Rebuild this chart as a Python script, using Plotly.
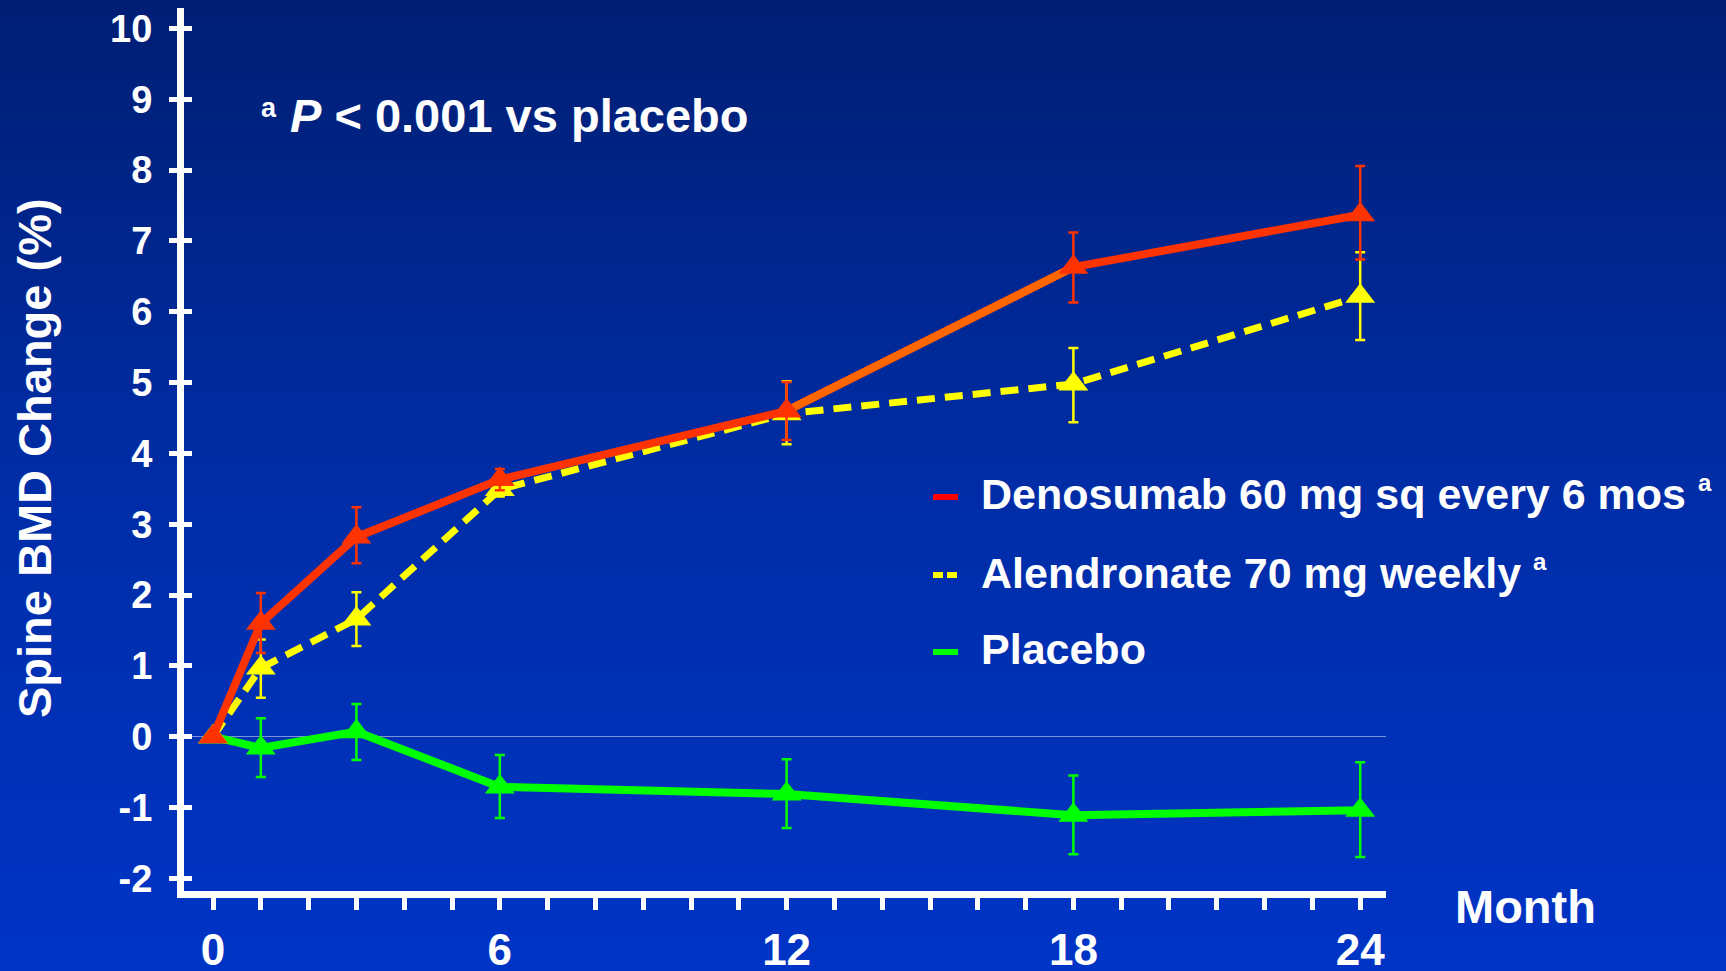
import plotly.graph_objects as go

# ---------------- data ----------------
months = [0, 1, 3, 6, 12, 18, 24]

deno = [0, 1.60, 2.82, 3.63, 4.60, 6.63, 7.37]
deno_plus = [0, 0.43, 0.42, 0.15, 0.41, 0.49, 0.69]
deno_minus = [0, 0.42, 0.37, 0.15, 0.41, 0.50, 0.63]

alen = [0, 0.97, 1.66, 3.49, 4.56, 4.98, 6.22]
alen_plus = [0, 0.40, 0.38, 0.10, 0.46, 0.51, 0.62]
alen_minus = [0, 0.42, 0.38, 0.10, 0.43, 0.54, 0.62]

plac = [0, -0.16, 0.07, -0.71, -0.81, -1.11, -1.04]
plac_plus = [0, 0.42, 0.39, 0.45, 0.49, 0.56, 0.68]
plac_minus = [0, 0.41, 0.40, 0.44, 0.48, 0.55, 0.66]

series_names = ["Denosumab 60 mg sq every 6 mos", "Alendronate 70 mg weekly", "Placebo"]
series_sup = ["a", "a", ""]

x_tick_vals = list(range(0, 25))
x_tick_text = [str(v) if v % 6 == 0 else "" for v in x_tick_vals]
y_tick_vals = list(range(-2, 11))
y_tick_text = [str(v) for v in y_tick_vals]

# ---------------- layout geometry ----------------
FW, FH = 1726, 971
L, R, T, B = 184, 340, 8, 80
W, H = FW - L - R, FH - T - B
XR = [-0.607, 24.54]
YR = [-2.18, 10.29]

def px_x(px):
    return (px - L) / W

def px_y(py):
    return 1 - (py - T) / H

FONT = "Liberation Sans, Arial, Helvetica, sans-serif"
RED, ORANGE, YEL, GRN = "#ff3300", "#ff6600", "#ffff00", "#00ff00"

fig = go.Figure()

def add_series(y, plus, minus, color, dash, width, seg=None):
    fig.add_trace(go.Scatter(
        x=months, y=y, mode="lines",
        line=dict(color=color, width=width, dash=dash),
        error_y=dict(type="data", symmetric=False, array=plus, arrayminus=minus,
                     color=color, thickness=2.5, width=5),
        showlegend=False, hoverinfo="skip"))
    if seg is not None:
        fig.add_trace(go.Scatter(
            x=months[seg[0]:seg[1]], y=y[seg[0]:seg[1]], mode="lines",
            line=dict(color=seg[2], width=width),
            showlegend=False, hoverinfo="skip"))
    fig.add_trace(go.Scatter(
        x=months, y=y, mode="markers",
        marker=dict(symbol="triangle-up", size=26, color=color, line=dict(width=0)),
        showlegend=False, hoverinfo="skip"))

add_series(plac, plac_plus, plac_minus, GRN, "solid", 8)
add_series(alen, alen_plus, alen_minus, YEL, "18px,10px", 7)
add_series(deno, deno_plus, deno_minus, RED, "solid", 8, seg=(4, 6, ORANGE))

# invisible trace to carry the inner-tick overlay axis
fig.add_trace(go.Scatter(x=[months[0]], y=[plac[0]], yaxis="y2", mode="markers",
                         marker=dict(opacity=0), showlegend=False, hoverinfo="skip"))

# ---------------- background gradient ----------------
stops = [(0.0, (0, 30, 115)), (0.5, (0, 45, 166)), (1.0, (0, 52, 198))]

def grad(t):
    for (t0, c0), (t1, c1) in zip(stops[:-1], stops[1:]):
        if t <= t1:
            f = (t - t0) / (t1 - t0)
            return tuple(round(a + (b - a) * f) for a, b in zip(c0, c1))
    return stops[-1][1]

shapes = []
NB = 97
for i in range(NB):
    y0p = i * FH / NB
    y1p = (i + 1) * FH / NB + 1
    c = grad((i + 0.5) / NB)
    shapes.append(dict(type="rect", xref="paper", yref="paper",
                       x0=px_x(-2), x1=px_x(FW + 2), y0=px_y(y1p), y1=px_y(y0p - 1),
                       fillcolor="rgb(%d,%d,%d)" % c, line=dict(width=0), layer="below"))

# ---------------- manual legend ----------------
leg_rows = [491, 569, 646]
leg_colors = ["#ff0000", YEL, GRN]
leg_dash = ["solid", "10px,4px", "solid"]
annotations = []
for name, sup, row, col, dsh in zip(series_names, series_sup, leg_rows, leg_colors, leg_dash):
    shapes.append(dict(type="line", xref="paper", yref="paper",
                       x0=px_x(933), x1=px_x(958), y0=px_y(row + 6), y1=px_y(row + 6),
                       line=dict(color=col, width=6, dash=dsh)))
    txt = name
    if sup:
        txt += ' <sup><span style="font-size:24px">%s</span></sup>' % sup
    annotations.append(dict(xref="paper", yref="paper", x=px_x(979), y=px_y(row + 3),
                            xanchor="left", yanchor="middle", showarrow=False, text=txt,
                            font=dict(family=FONT, size=43, color="white", weight="bold")))

# p-value note
annotations.append(dict(xref="paper", yref="paper", x=px_x(259), y=px_y(108),
                        xanchor="left", yanchor="middle", showarrow=False, text="a",
                        font=dict(family=FONT, size=27, color="white", weight="bold")))
annotations.append(dict(xref="paper", yref="paper", x=px_x(288), y=px_y(115),
                        xanchor="left", yanchor="middle", showarrow=False,
                        text="<i>P</i> &lt; 0.001 vs placebo",
                        font=dict(family=FONT, size=47, color="white", weight="bold")))
# axis titles
annotations.append(dict(xref="paper", yref="paper", x=px_x(34), y=px_y(458),
                        xanchor="center", yanchor="middle", showarrow=False, textangle=-90,
                        text="Spine BMD Change (%)",
                        font=dict(family=FONT, size=47, color="white", weight="bold")))
annotations.append(dict(xref="paper", yref="paper", x=px_x(1526), y=px_y(906),
                        xanchor="center", yanchor="middle", showarrow=False,
                        text="Month",
                        font=dict(family=FONT, size=47, color="white", weight="bold")))

fig.update_layout(
    width=FW, height=FH,
    margin=dict(l=L, r=R, t=T, b=B, autoexpand=False),
    paper_bgcolor="rgb(0,40,150)",
    plot_bgcolor="rgba(0,0,0,0)",
    showlegend=False,
    shapes=shapes,
    annotations=annotations,
    xaxis=dict(range=XR, showgrid=False, zeroline=False,
               showline=True, linecolor="white", linewidth=7,
               tickmode="array", tickvals=x_tick_vals, ticktext=x_tick_text,
               ticks="outside", ticklen=12, tickwidth=5, tickcolor="white",
               ticklabelstandoff=2,
               tickfont=dict(family=FONT, size=44, color="white", weight="bold")),
    yaxis=dict(range=YR, showgrid=False,
               zeroline=True, zerolinecolor="rgba(190,200,240,0.65)", zerolinewidth=1,
               showline=True, linecolor="white", linewidth=7,
               tickmode="array", tickvals=y_tick_vals, ticktext=y_tick_text,
               ticks="outside", ticklen=8, tickwidth=5, tickcolor="white",
               ticklabelstandoff=9,
               tickfont=dict(family=FONT, size=38, color="white", weight="bold")),
    yaxis2=dict(range=YR, overlaying="y", side="left", anchor="x",
                showgrid=False, zeroline=False, showline=False,
                tickmode="array", tickvals=y_tick_vals, showticklabels=False,
                ticks="inside", ticklen=8, tickwidth=5, tickcolor="white"),
)

fig.write_html("out.html",
               config={"displayModeBar": False},
               post_script="document.body.style.margin='0px';document.body.style.overflow='hidden';")
